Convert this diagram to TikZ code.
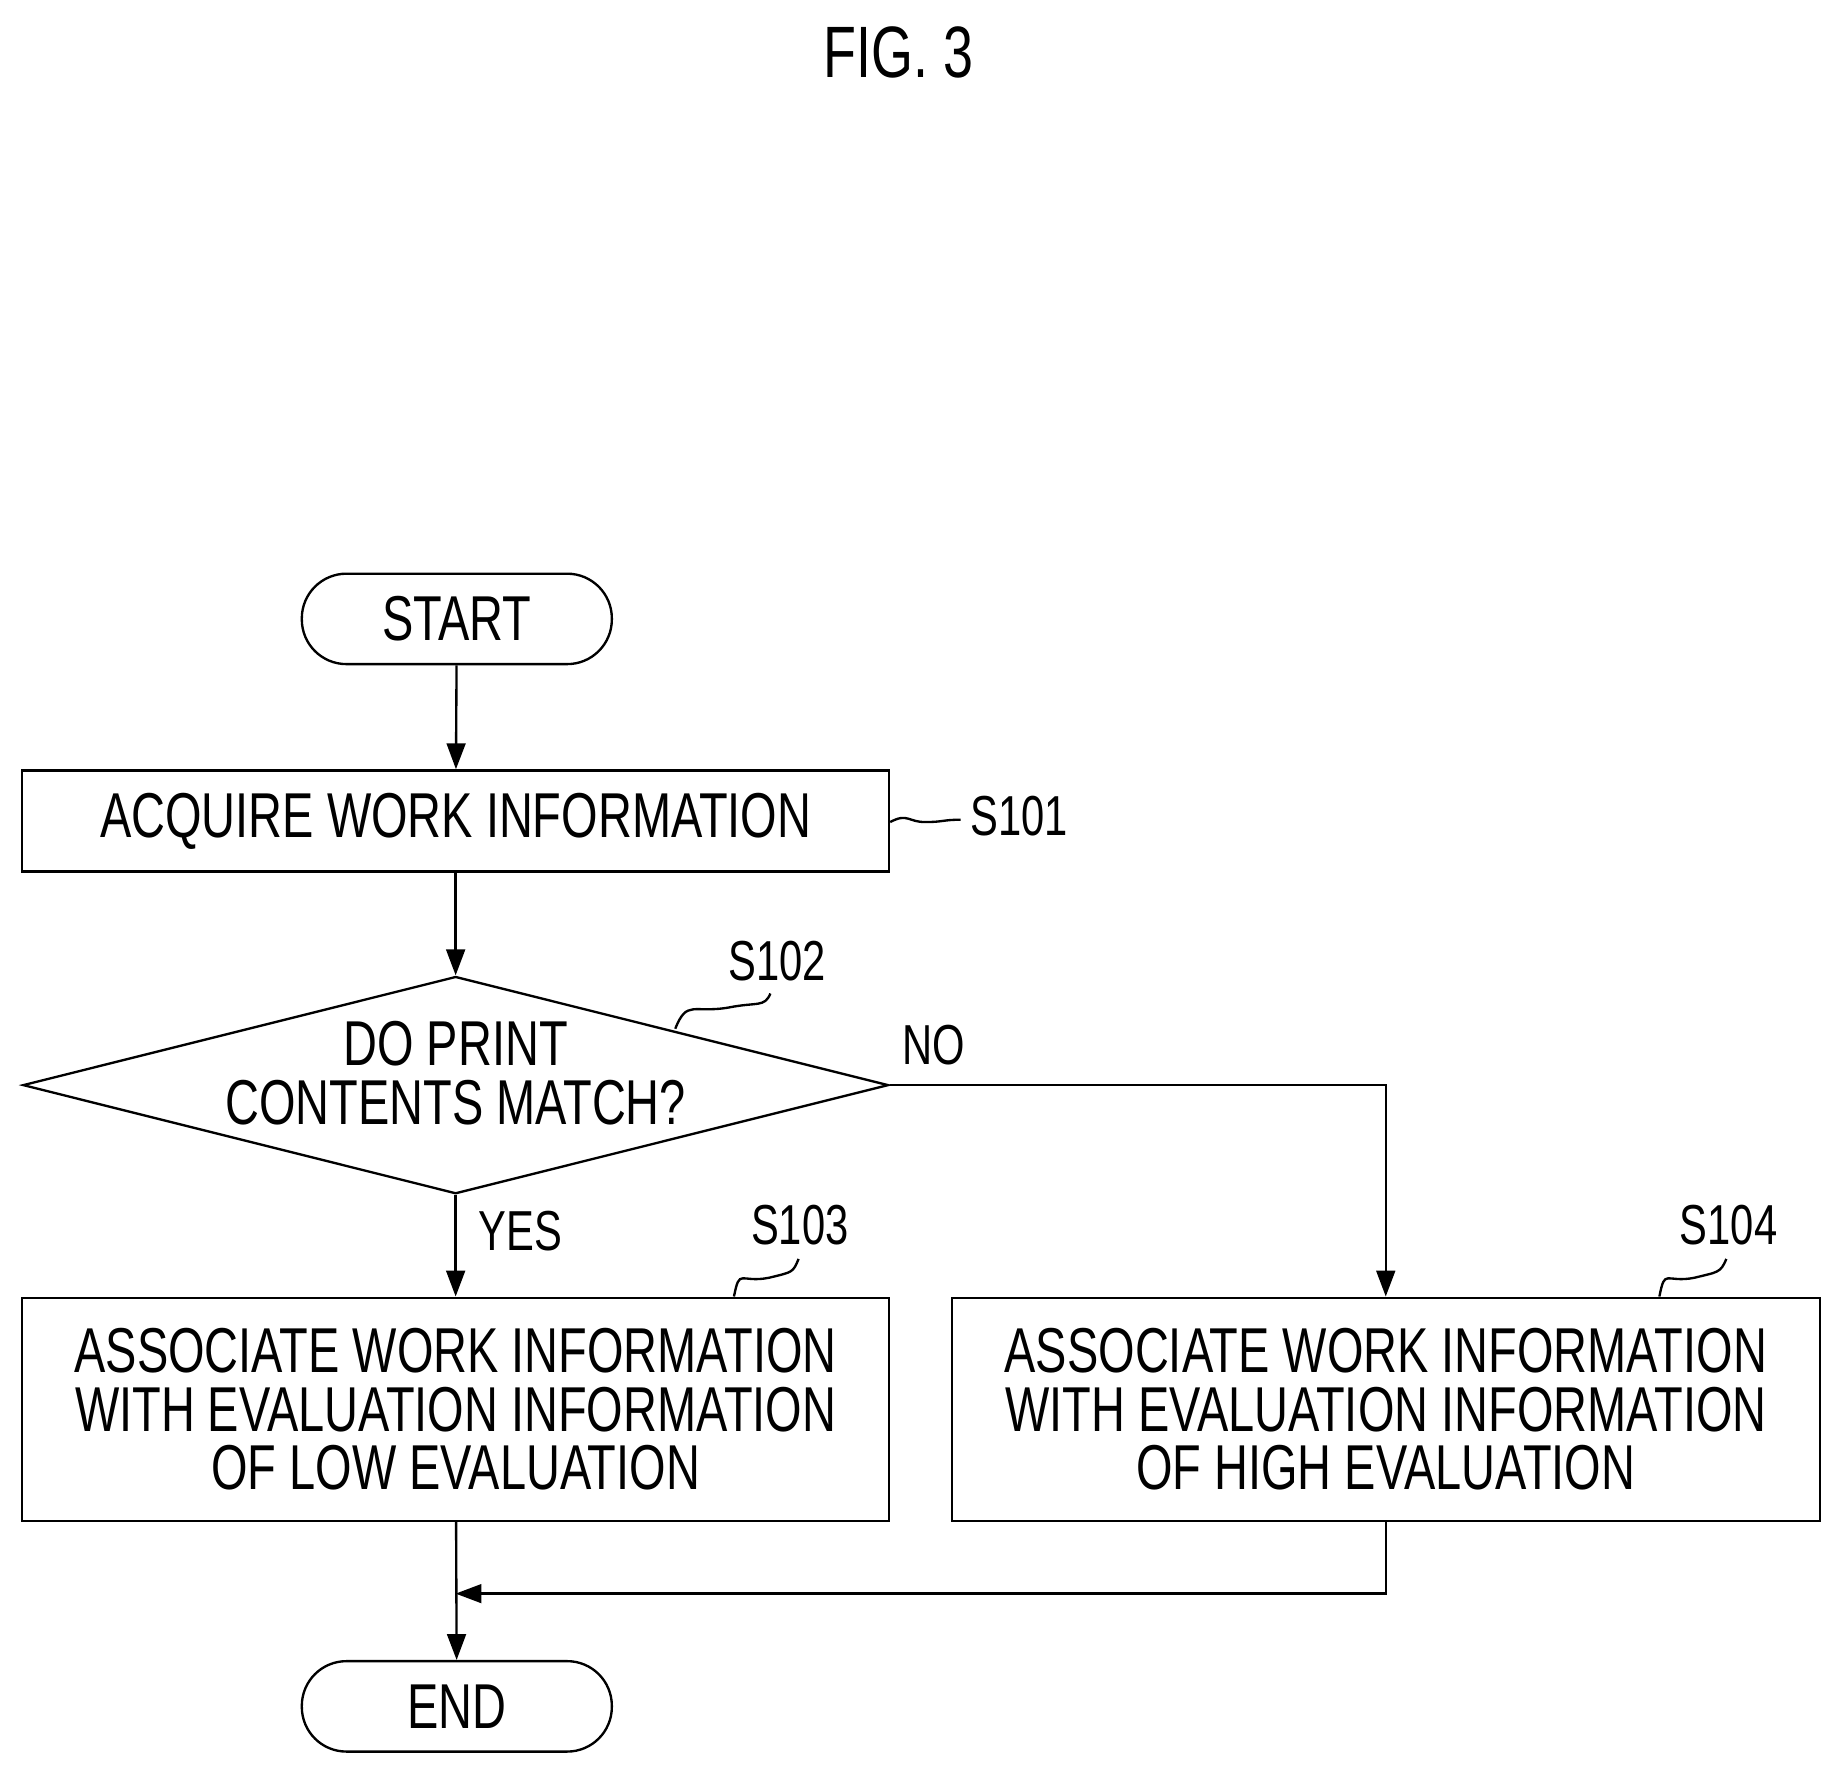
\documentclass[tikz,border=0pt]{standalone}
\usepackage{fontspec}
\setmainfont[FakeStretch=0.74]{Liberation Sans}
\usetikzlibrary{shapes.geometric,arrows.meta}
\begin{document}
\begin{tikzpicture}[x=1pt,y=-1pt,
  box/.style={draw,line width=2pt,minimum height=#1,align=center,inner sep=0pt},
  term/.style={draw,line width=2pt,rounded corners=38pt,minimum width=264pt,minimum height=77pt,inner sep=0pt},
  txt/.style={font=\fontsize{54}{50}\selectfont},
  lbl/.style={font=\fontsize{48}{50}\selectfont},
  arr/.style={line width=2pt,-{Triangle[length=22pt,width=16pt]}},
  ln/.style={line width=2pt}]
\useasboundingbox (0,0) rectangle (1560,1505);
\node[font=\fontsize{62}{62}\selectfont] (fig) at (765,45) {FIG. 3};
\node[term,txt] (start) at (389,527) {START};
\node[box=86pt,minimum width=738pt,txt] (s101) at (388,699) {ACQUIRE WORK INFORMATION};
\node[draw,line width=2pt,diamond,aspect=4,minimum width=737pt,minimum height=185pt,inner sep=0pt] (d) at (388,924) {};
\node[txt,align=center] (dt) at (388,914) {DO PRINT\\CONTENTS MATCH?};
\node[box=190pt,minimum width=738pt,txt] (s103) at (388,1200) {ASSOCIATE WORK INFORMATION\\WITH EVALUATION INFORMATION\\OF LOW EVALUATION};
\node[box=190pt,minimum width=739pt,txt] (s104) at (1180,1200) {ASSOCIATE WORK INFORMATION\\WITH EVALUATION INFORMATION\\OF HIGH EVALUATION};
\node[term,txt] (end) at (389,1453) {END};
\node[lbl] (l101) at (868,695) {S101};
\node[lbl] (l102) at (662,818) {S102};
\node[lbl] (l103) at (681,1043) {S103};
\node[lbl] (l104) at (1472,1043) {S104};
\node[lbl] (no) at (795,890) {NO};
\node[lbl] (yes) at (443,1048) {YES};
\coordinate (m) at (388,1357);
\coordinate (t1) at (758,700);
\coordinate (t2) at (575,876);
\coordinate (t3) at (625,1104);
\coordinate (t4) at (1413,1104);
\draw[arr] (start) -- (s101);
\draw[arr] (s101) -- (d.north);
\draw[arr] (d.south) -- (s103);
\draw[arr] (d.east) -| (s104.north);
\draw[arr] (s103) -- (end);
\draw[arr] (s104.south) |- (m);
\draw[ln] (t1) .. controls +(15,-8) and +(-15,0) .. +(30,0) .. controls +(15,0) and +(-15,0) .. (818,698);
\draw[ln] (t2) .. controls +(10,-25) and +(-30,5) .. (620,858) .. controls +(25,-5) and +(-5,12) .. (656,846);
\draw[ln] (t3) .. controls +(5,-25) and +(-25,5) .. (655,1088) .. controls +(20,-5) and +(-5,12) .. (680,1072);
\draw[ln] (t4) .. controls +(5,-25) and +(-25,5) .. (1443,1088) .. controls +(20,-5) and +(-5,12) .. (1470,1072);
\end{tikzpicture}
\end{document}
